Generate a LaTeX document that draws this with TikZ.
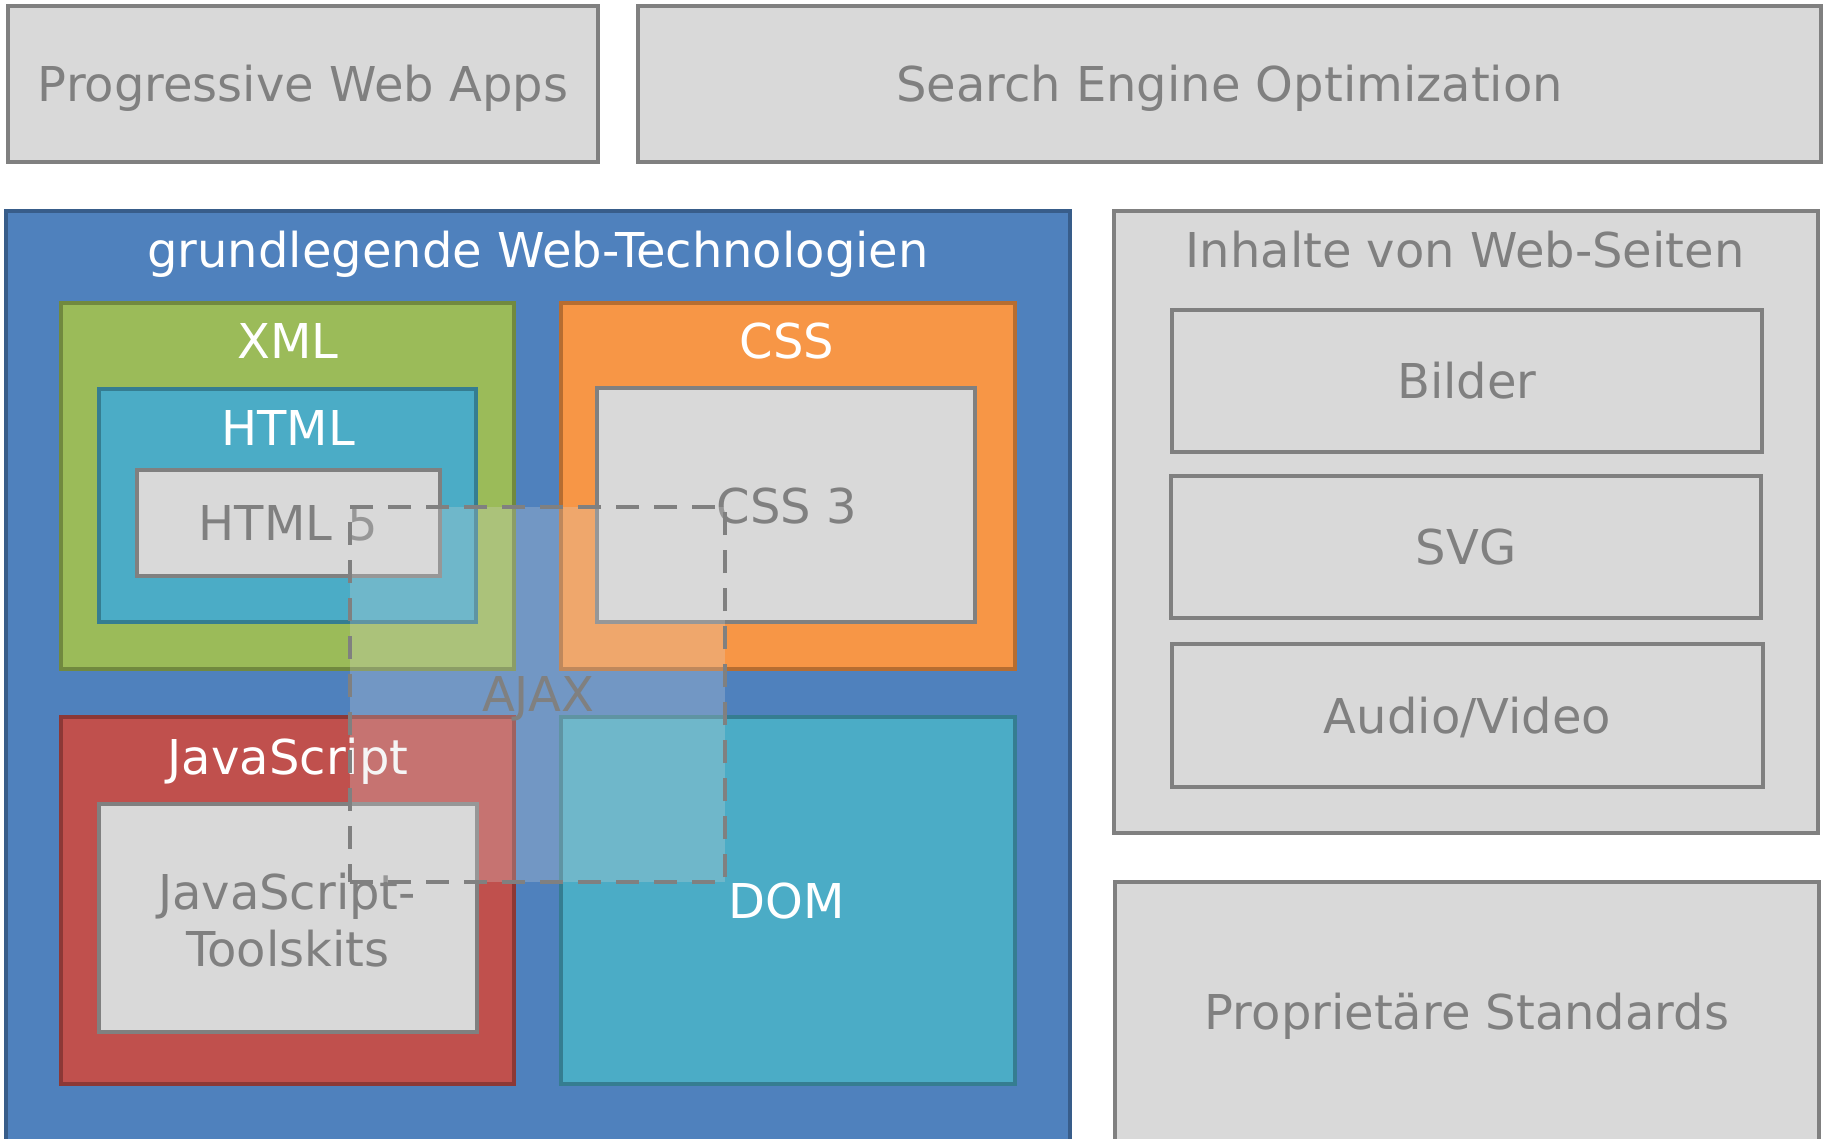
\documentclass[tikz,border=0pt]{standalone}
\usepackage{fontspec}
\setmainfont{DejaVu Sans}
\definecolor{gfill}{HTML}{D9D9D9}
\definecolor{gline}{HTML}{808080}
\definecolor{bfill}{HTML}{4F81BD}
\definecolor{bline}{HTML}{385D8A}
\definecolor{grfill}{HTML}{9BBB59}
\definecolor{grline}{HTML}{71893F}
\definecolor{tfill}{HTML}{4BACC6}
\definecolor{tline}{HTML}{357D91}
\definecolor{ofill}{HTML}{F79646}
\definecolor{oline}{HTML}{B66D31}
\definecolor{rfill}{HTML}{C0504D}
\definecolor{rline}{HTML}{8C3836}
\begin{document}
\begin{tikzpicture}[x=1pt,y=-1pt,
  boxbase/.style={line width=4.7pt, inner sep=0pt, outer sep=0pt},
  graybox/.style={boxbase, draw=gline, fill=gfill},
  bluebox/.style={boxbase, draw=bline, fill=bfill},
  greenbox/.style={boxbase, draw=grline, fill=grfill},
  tealbox/.style={boxbase, draw=tline, fill=tfill},
  orangebox/.style={boxbase, draw=oline, fill=ofill},
  redbox/.style={boxbase, draw=rline, fill=rfill},
  ajaxbox/.style={boxbase, draw=gline, fill=gfill, fill opacity=0.26, draw opacity=1, dash pattern=on 23pt off 15pt},
  lbl/.style={anchor=base, inner sep=0pt, font=\fontsize{48}{58}\selectfont},
  glbl/.style={lbl, text=gline},
  wlbl/.style={lbl, text=white}
]
\useasboundingbox (0,0) rectangle (1825,1138);
\clip (0,0) rectangle (1825,1138);

% top row
\node[graybox, minimum width=590pt, minimum height=156pt] (pwa) at (303,84) {};
\node[glbl] (pwat) at (303,101) {Progressive Web Apps};
\node[graybox, minimum width=1183pt, minimum height=156pt] (seo) at (1229.5,84) {};
\node[glbl] (seot) at (1229.5,101) {Search Engine Optimization};

% right column
\node[graybox, minimum width=704pt, minimum height=622pt] (inh) at (1466,522) {};
\node[glbl] (inht) at (1465,267) {Inhalte von Web-Seiten};
\node[graybox, minimum width=590pt, minimum height=142pt] (bil) at (1467,381) {};
\node[glbl] (bilt) at (1467,398) {Bilder};
\node[graybox, minimum width=590pt, minimum height=142pt] (svg) at (1466,547) {};
\node[glbl] (svgt) at (1466,564) {SVG};
\node[graybox, minimum width=591pt, minimum height=143pt] (aud) at (1467.5,715.5) {};
\node[glbl] (audt) at (1467.5,733) {Audio/Video};
\node[graybox, minimum width=704pt, minimum height=318pt] (pro) at (1467,1041) {};
\node[glbl] (prot) at (1467,1029) {Proprietäre Standards};

% main web technologies block
\node[bluebox, minimum width=1064pt, minimum height=989pt] (web) at (538,705.5) {};
\node[wlbl] (webt) at (538,267) {grundlegende Web-Technologien};

\node[greenbox, minimum width=453pt, minimum height=366pt] (xml) at (287.5,486) {};
\node[wlbl] (xmlt) at (288,358) {XML};
\node[tealbox, minimum width=377pt, minimum height=233pt] (html) at (287.5,505.5) {};
\node[wlbl] (htmlt) at (288,445) {HTML};
\node[graybox, minimum width=303pt, minimum height=106pt] (h5) at (288.5,523) {};
\node[glbl] (h5t) at (288.5,540) {HTML 5};

\node[orangebox, minimum width=454pt, minimum height=366pt] (css) at (788,486) {};
\node[wlbl] (csst) at (787,358) {CSS};
\node[graybox, minimum width=378pt, minimum height=234pt] (css3) at (786,505) {};
\node[glbl] (css3t) at (787,523) {CSS 3};

\node[redbox, minimum width=453pt, minimum height=367pt] (js) at (287.5,900.5) {};
\node[wlbl] (jstt) at (288,774) {JavaScript};
\node[graybox, minimum width=378pt, minimum height=228pt] (jst) at (288,918) {};
\node[glbl] (jsta) at (287,909) {JavaScript-};
\node[glbl] (jstb) at (288,966) {Toolskits};

\node[tealbox, minimum width=454pt, minimum height=367pt] (dom) at (788,900.5) {};
\node[wlbl] (domt) at (787,918) {DOM};

% AJAX overlay
\node[ajaxbox, minimum width=375pt, minimum height=375pt] (ajax) at (537.5,694.5) {};
\node[glbl] (ajaxt) at (538,711) {AJAX};
\end{tikzpicture}
\end{document}
